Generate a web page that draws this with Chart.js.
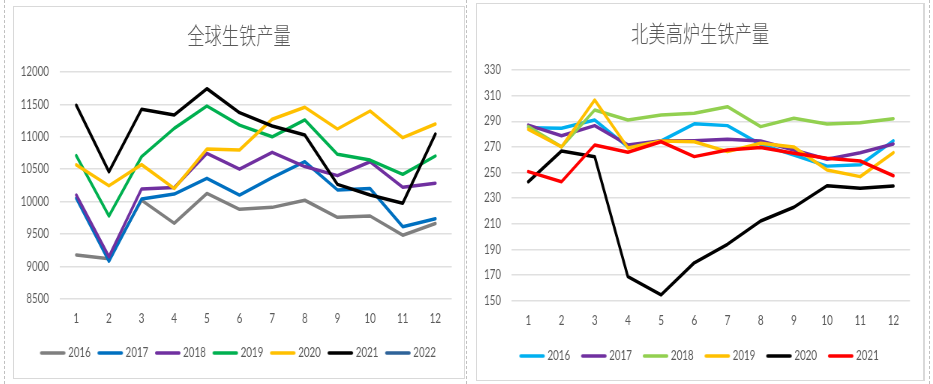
<!DOCTYPE html>
<html>
<head>
<meta charset="utf-8">
<script src="https://cdn.jsdelivr.net/npm/chart.js@4.4.1/dist/chart.umd.min.js"></script>
<style>
  html, body { margin: 0; padding: 0; background: #ffffff; }
  body { width: 933px; height: 384px; position: relative; overflow: hidden; }
  .dash { position: absolute; top: 0; height: 384px; width: 0; border-left: 1px dashed #c0c0c0; }
  .box { position: absolute; border: 1px solid #d9d9d9; background: #fff; }
  canvas { display: block; transform-origin: 0 0; transform: scaleX(0.75); }
</style>
</head>
<body>
<div class="dash" style="left:4px"></div>
<div class="dash" style="left:466px"></div>
<div class="dash" style="left:929px"></div>
<div class="box" style="left:13px; top:6px; width:450px; height:371px;"><canvas id="c1" width="600" height="371" style="width:600px;height:371px"></canvas></div>
<div class="box" style="left:476px; top:3px; width:446px; height:376px; border-right-width:2px;"><canvas id="c2" width="595" height="376" style="width:595px;height:376px"></canvas></div>
<script>
// ---- Data: 全球生铁产量 (left) ----
const months = ['1','2','3','4','5','6','7','8','9','10','11','12'];
const globalYears = ['2016','2017','2018','2019','2020','2021','2022'];
const global2016 = [9175, 9115, 10020, 9665, 10125, 9880, 9910, 10020, 9757, 9777, 9480, 9660];
const global2017 = [10050, 9080, 10040, 10115, 10358, 10100, 10370, 10615, 10180, 10200, 9612, 9735];
const global2018 = [10100, 9148, 10195, 10215, 10745, 10500, 10760, 10540, 10400, 10615, 10220, 10282];
const global2019 = [10708, 9777, 10693, 11130, 11475, 11180, 11000, 11260, 10730, 10640, 10420, 10703];
const global2020 = [10565, 10244, 10570, 10200, 10811, 10796, 11270, 11455, 11120, 11398, 10986, 11197];
const global2021 = [11486, 10461, 11424, 11336, 11743, 11372, 11166, 11027, 10265, 10101, 9973, 11043];
const global2022 = [];
const globalTicks = [8500, 9000, 9500, 10000, 10500, 11000, 11500, 12000];

// ---- Data: 北美高炉生铁产量 (right) ----
const naYears = ['2016','2017','2018','2019','2020','2021'];
const na2016 = [285, 284.5, 291, 270, 274.6, 288, 286.6, 272, 263.7, 255, 256, 274.8];
const na2017 = [287, 278.7, 286.6, 271.5, 274.8, 274.8, 276, 274.6, 267.6, 260.3, 265.5, 272.3];
const na2018 = [285.8, 270, 298.8, 291, 294.9, 296.2, 301.4, 285.8, 292.3, 287.9, 288.9, 292];
const na2019 = [283.7, 270, 306.6, 269.2, 274.6, 274, 266.3, 272.8, 270, 252, 246.8, 265.5];
const na2020 = [242.8, 266.8, 262.4, 168.7, 154.5, 179.6, 194, 212.2, 222.9, 239.7, 237.7, 239.5];
const na2021 = [250.7, 242.8, 271.5, 265.8, 274, 262.4, 267.6, 269.6, 265, 261.1, 259, 247.5];
const naTicks = [150, 170, 190, 210, 230, 250, 270, 290, 310, 330];

const globalColors = ['#7f7f7f', '#0070c0', '#7030a0', '#00b050', '#ffc000', '#000000', '#2e6399'];
const naColors = ['#00b0f0', '#7030a0', '#92d050', '#ffc000', '#000000', '#ff0000'];

const TEXT = '#595959';
const FONT = "Lato, 'Liberation Sans', sans-serif";
const FSIZE = 13;
const CJK = "'Noto Sans CJK SC', 'Noto Sans', sans-serif";
const BOXW = 28.2;

function legendImg(color) {
  const c = document.createElement('canvas');
  c.width = 36; c.height = 6;
  const g = c.getContext('2d');
  g.strokeStyle = color; g.lineWidth = 3.5; g.lineCap = 'round';
  g.beginPath(); g.moveTo(2.75, 3); g.lineTo(33.25, 3); g.stroke();
  return c;
}

function textWidth(t) {
  const g = document.createElement('canvas').getContext('2d');
  g.font = FSIZE + 'px ' + FONT;
  return g.measureText(t).width;
}

function makeDatasets(labels, series, colors) {
  return labels.map((lab, i) => ({
    label: lab,
    data: series[i],
    borderColor: colors[i],
    backgroundColor: colors[i],
    borderWidth: 3.5,
    pointRadius: 0,
    pointHoverRadius: 0,
    pointStyle: legendImg(colors[i]),
    tension: 0,
    fill: false,
    borderJoinStyle: 'round',
    borderCapStyle: 'round',
    order: labels.length - i
  }));
}

function makeChart(id, cfg) {
  const canvas = document.getElementById(id);
  const tw = textWidth('2016');
  const legendPad = cfg.pitch - (BOXW + FSIZE / 2 + tw);
  const legendTop = canvas.height - cfg.padBottom - (FSIZE + legendPad + 10);
  const xHeight = legendTop - cfg.plotBottom;
  return new Chart(canvas, {
    type: 'line',
    data: { labels: months, datasets: makeDatasets(cfg.labels, cfg.series, cfg.colors) },
    options: {
      responsive: false,
      animation: false,
      events: [],
      layout: { padding: { left: 0, right: 0, top: 0, bottom: cfg.padBottom } },
      plugins: {
        title: {
          display: true, text: cfg.title, color: TEXT,
          font: { family: CJK, size: 23, weight: 300, lineHeight: 1.2 },
          padding: { top: cfg.titleTop, bottom: cfg.titleBottom }
        },
        legend: {
          display: true, position: 'bottom',
          labels: {
            color: TEXT, font: { family: FONT, size: FSIZE },
            usePointStyle: true, pointStyleWidth: BOXW, boxHeight: 6,
            padding: legendPad,
            sort: (a, b) => a.datasetIndex - b.datasetIndex
          }
        },
        tooltip: { enabled: false }
      },
      scales: {
        x: {
          type: 'category', offset: true,
          grid: { display: false, drawTicks: false },
          border: { display: false },
          ticks: { color: TEXT, font: { family: FONT, size: FSIZE }, padding: 12.5, maxRotation: 0, autoSkip: false },
          afterFit: (s) => { s.height = xHeight; }
        },
        y: {
          position: 'left',
          min: cfg.ticks[0], max: cfg.ticks[cfg.ticks.length - 1],
          afterBuildTicks: (s) => { s.ticks = cfg.ticks.map(v => ({ value: v })); },
          grid: { color: '#e0e0e0', lineWidth: 1.5, drawTicks: false },
          border: { display: false },
          ticks: { color: TEXT, font: { family: FONT, size: FSIZE }, padding: cfg.yPad, callback: (v) => String(v) },
          afterFit: (s) => { s.width = cfg.yWidth; }
        },
        yR: {
          position: 'right', display: true,
          grid: { display: false, drawTicks: false },
          border: { display: false },
          ticks: { display: false },
          afterFit: (s) => { s.width = cfg.rightGap; }
        }
      }
    }
  });
}

makeChart('c1', {
  title: '全球生铁产量',
  labels: globalYears,
  series: [global2016, global2017, global2018, global2019, global2020, global2021, global2022],
  colors: globalColors,
  ticks: globalTicks,
  yWidth: 61.3, rightGap: 16.4, yPad: 14.7,
  titleTop: 14.2, titleBottom: 23.2,
  plotBottom: 291.7,
  pitch: 76.7, padBottom: 8.5
});

makeChart('c2', {
  title: '北美高炉生铁产量',
  labels: naYears,
  series: [na2016, na2017, na2018, na2019, na2020, na2021],
  colors: naColors,
  ticks: naTicks,
  yWidth: 46.3, rightGap: 17.7, yPad: 14.3,
  titleTop: 15.2, titleBottom: 23.2,
  plotBottom: 296.7,
  pitch: 82.3, padBottom: 7.5
});
</script>
</body>
</html>
